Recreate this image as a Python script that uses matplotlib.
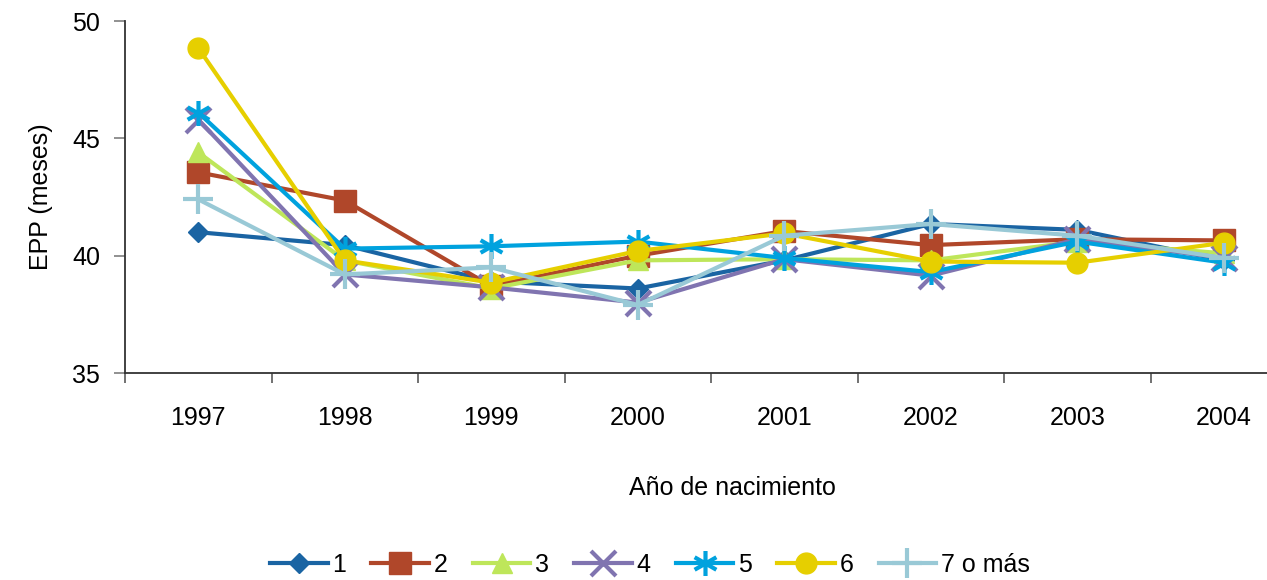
import matplotlib.pyplot as plt
import numpy as np
from matplotlib.path import Path

plt.rcParams['font.family'] = ['Liberation Sans', 'DejaVu Sans']

years = ["1997", "1998", "1999", "2000", "2001", "2002", "2003", "2004"]
labels = ["1", "2", "3", "4", "5", "6", "7 o más"]

s1 = [41.0, 40.45, 38.9, 38.6, 39.8, 41.35, 41.1, 39.8]
s2 = [43.55, 42.35, 38.7, 40.0, 41.05, 40.45, 40.7, 40.65]
s3 = [44.4, 39.8, 38.6, 39.8, 39.85, 39.8, 40.6, 40.1]
s4 = [45.8, 39.2, 38.65, 38.0, 39.85, 39.15, 40.7, 39.9]
s5 = [46.1, 40.3, 40.4, 40.6, 39.9, 39.3, 40.6, 39.7]
s6 = [48.85, 39.8, 38.85, 40.2, 40.95, 39.75, 39.7, 40.55]
s7 = [42.4, 39.2, 39.5, 37.9, 40.85, 41.35, 40.85, 39.9]

# six-armed asterisk drawn as three strokes
asterisk = Path([(0, -1), (0, 1), (-0.87, -0.5), (0.87, 0.5), (-0.87, 0.5), (0.87, -0.5)],
                [Path.MOVETO, Path.LINETO] * 3)

series = [s1, s2, s3, s4, s5, s6, s7]
colors = ["#1a64a3", "#b0472a", "#bee65a", "#8074b0", "#00a2de", "#e6cf00", "#99c9d6"]
markers = ["D", "s", "^", "x", asterisk, "o", "+"]
msizes = [10.5, 16, 14.5, 18, 18, 15, 22]
edge_w = [1, 1, 1, 3, 3, 1, 3]

fig = plt.figure(figsize=(12.67, 5.8), dpi=100)
ax = fig.add_axes([125 / 1267, 1 - 373 / 580, 1172 / 1267, 352 / 580])

x = np.arange(len(years))
for vals, lab, c, m, ms, ew in zip(series, labels, colors, markers, msizes, edge_w):
    ax.plot(x, vals, color=c, linewidth=3, marker=m, markersize=ms,
            markeredgewidth=ew, markeredgecolor=c, markerfacecolor=c, label=lab)

ax.set_xlim(-0.5, 7.5)
ax.set_ylim(35, 50)
ax.set_yticks([35, 40, 45, 50])
ax.set_xticks(np.arange(-0.5, 8, 1))
ax.set_xticklabels([])
ax.set_xticks(x, minor=True)
ax.set_xticklabels(years, minor=True, fontsize=18)
ax.tick_params(axis="x", which="major", length=7.5, width=1.3, color="#666666")
ax.tick_params(axis="x", which="minor", length=0, pad=24)
ax.tick_params(axis="y", length=8, width=1.3, color="#888888", labelsize=18, pad=10)

for sp in ("top", "right"):
    ax.spines[sp].set_visible(False)
for sp in ("left", "bottom"):
    ax.spines[sp].set_color("#333333")
    ax.spines[sp].set_linewidth(1.3)

ax.set_ylabel("EPP (meses)", fontsize=18, labelpad=14)
fig.text(732 / 1267, 1 - 488 / 580, "Año de nacimiento", fontsize=18, ha="center", va="center")

fig.legend(loc="center", bbox_to_anchor=(650 / 1267, 1 - 565 / 580), ncol=7, frameon=False,
           fontsize=18, handlelength=2.3, columnspacing=1.0, handletextpad=0.2, markerscale=1.0)

fig.savefig("out.png", dpi=100)
